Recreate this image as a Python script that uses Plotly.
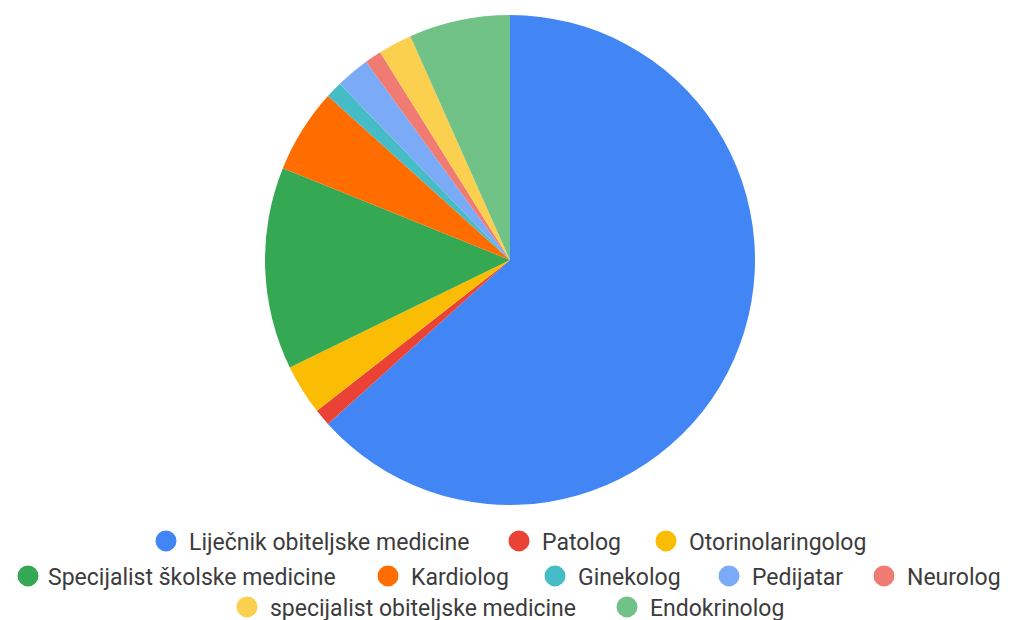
import plotly.graph_objects as go

labels = [
    "Liječnik obiteljske medicine",
    "Patolog",
    "Otorinolaringolog",
    "Specijalist školske medicine",
    "Kardiolog",
    "Ginekolog",
    "Pedijatar",
    "Neurolog",
    "specijalist obiteljske medicine",
    "Endokrinolog",
]
counts = [57, 1, 3, 12, 5, 1, 2, 1, 2, 6]
colours = [
    "#4285F4", "#EA4335", "#FBBC04", "#34A853", "#FF6D01",
    "#46BDC6", "#7BAAF7", "#F07B72", "#FCD04F", "#71C287",
]

# legend placement (circle centre x, row y) in pixels, as in the original layout
W, H = 1011, 620
legend_pos = [
    (164, 541), (517, 541), (664, 541),
    (22, 576), (386, 576), (553, 576), (727, 576), (882, 576),
    (245, 607), (625, 607),
]
# the page body has an 8px margin, so figure coordinates sit 8px off the window
PAGE_OFF = 8

fig = go.Figure()

# pie of radius 245 centred at (510, 260) in the window
px0, px1 = 265 - PAGE_OFF, 755 - PAGE_OFF
py0, py1 = 15 - PAGE_OFF, 505 - PAGE_OFF
fig.add_trace(
    go.Pie(
        labels=labels,
        values=counts,
        marker=dict(colors=colours, line=dict(width=0)),
        sort=False,
        direction="clockwise",
        rotation=0,
        textinfo="none",
        hoverinfo="label+value+percent",
        showlegend=False,
        domain=dict(x=[px0 / W, px1 / W], y=[(H - py1) / H, (H - py0) / H]),
    )
)

# one single-item legend per category, so each sits where the original puts it
layout_legends = {}
for i, (label, colour) in enumerate(zip(labels, colours)):
    key = "legend" if i == 0 else f"legend{i + 1}"
    fig.add_trace(
        go.Scatter(
            x=[None],
            y=[None],
            mode="markers",
            marker=dict(color=colour, size=16, symbol="circle",
                        line=dict(color=colour, width=6)),
            name=label,
            legend=key,
            hoverinfo="skip",
        )
    )
    cx, cy = legend_pos[i]
    leg = dict(
        xref="container",
        yref="container",
        x=(cx - 29) / W,
        y=1 - (cy - PAGE_OFF) / H,
        xanchor="left",
        yanchor="middle",
        orientation="h",
        itemsizing="trace",
        itemwidth=36,
        font=dict(family="Roboto, Arial, sans-serif", size=23, color="#3c3c3c"),
        bgcolor="rgba(0,0,0,0)",
    )
    if cx - 29 < PAGE_OFF:
        # left edge: can't go further left, so tighten the symbol gap instead
        leg.update(x=0, itemwidth=30)
    layout_legends[key] = leg

fig.update_layout(
    width=W,
    height=H,
    margin=dict(l=0, r=0, t=0, b=0, autoexpand=False),
    paper_bgcolor="white",
    plot_bgcolor="white",
    xaxis=dict(visible=False),
    yaxis=dict(visible=False),
    **layout_legends,
)

fig.write_html("out.html")
